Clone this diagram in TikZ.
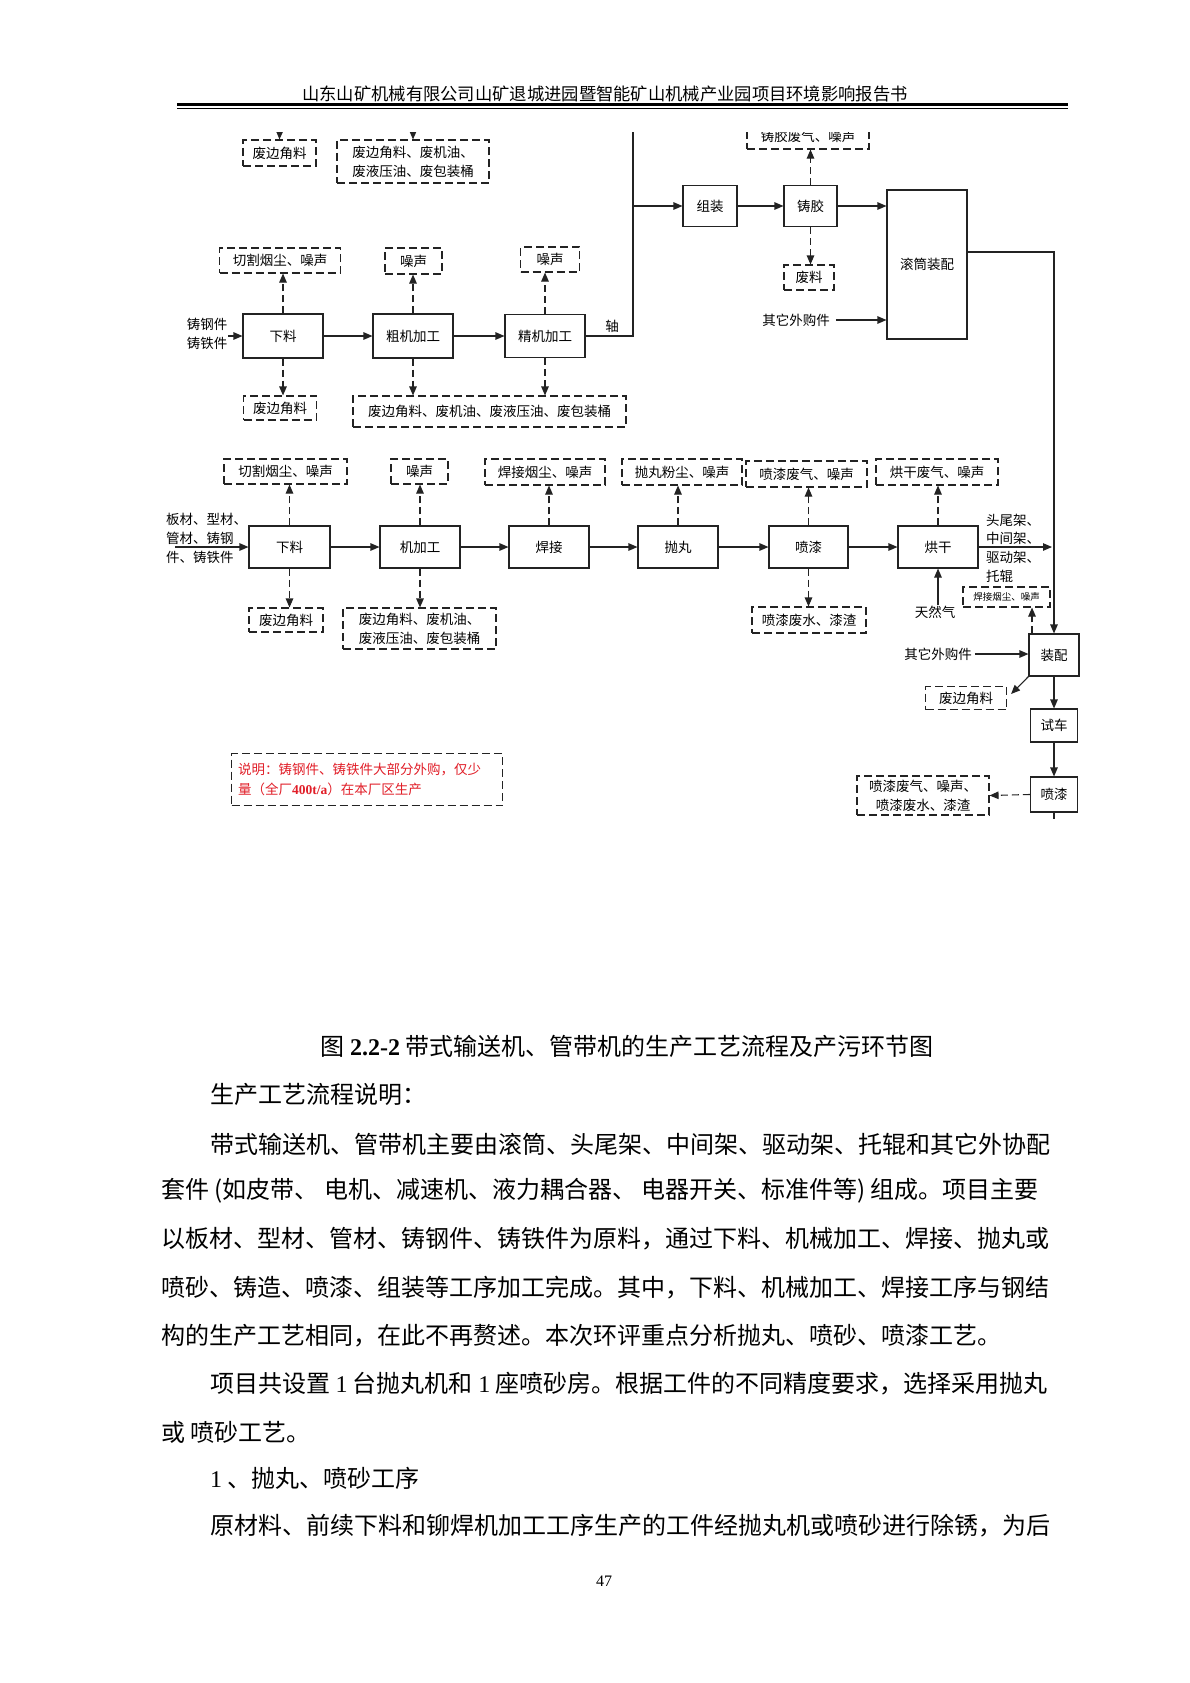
\documentclass[tikz,border=0pt]{standalone}
\usepackage{fontspec}
\setmainfont{Noto Sans CJK SC}
\newfontfamily\tnr{Liberation Serif}
\usetikzlibrary{arrows.meta}
\definecolor{notered}{RGB}{225,30,40}
\definecolor{ink}{RGB}{35,35,35}
\tikzset{
  dfont/.style={font=\fontsize{13.5}{19}\selectfont},
  pbox/.style={draw=ink, line width=1.1pt, inner sep=0pt, dfont},
  wbox/.style={draw=ink, line width=1.1pt, dash pattern=on 8pt off 4pt, inner sep=0pt, dfont},
  txt/.style={inner sep=1pt, dfont},
  ln/.style={draw=ink, line width=1.1pt},
  arr/.style={ln, -{Triangle[length=9pt,width=7.5pt]}},
  darr/.style={arr, dash pattern=on 7pt off 4pt},
  bline/.style={anchor=west, inner sep=0pt, font=\fontsize{24}{24}\selectfont},
}
\begin{document}
\begin{tikzpicture}[x=1pt,y=-1pt]
\useasboundingbox (0,0) rectangle (1190,1683);
\fill[white] (0,0) rectangle (1190,1683);

% header
\node[font=\fontsize{17.3}{20}\selectfont, inner sep=0pt] (hdr) at (605,94) {山东山矿机械有限公司山矿退城进园暨智能矿山机械产业园项目环境影响报告书};
\coordinate (hl1) at (177,104.5); \coordinate (hr1) at (1068,104.5);
\coordinate (hl2) at (177,108.8); \coordinate (hr2) at (1068,108.8);
\draw[line width=2.6pt] (hl1) -- (hr1);
\draw[line width=1pt] (hl2) -- (hr2);

\begin{scope}
\clip (150,133) rectangle (1090,818);

% ---------- row 0 (cut off at top)
\node[wbox, minimum width=73, minimum height=26] (t1) at (279.5,153) {废边角料};
\node[wbox, minimum width=152, minimum height=43, align=left] (t2) at (413,161.5) {废边角料、废机油、\\废液压油、废包装桶};
\coordinate (t1in) at (280,100);
\coordinate (t2in) at (413,100);
\draw[darr] (t1in) -- (t1.north);
\draw[darr] (t2in) -- (t2.north);

% ---------- row 1
\node[pbox, minimum width=80, minimum height=44] (a1) at (283,336) {下料};
\node[pbox, minimum width=80, minimum height=44] (a2) at (413,336) {粗机加工};
\node[pbox, minimum width=80, minimum height=43] (a3) at (545,336) {精机加工};
\node[wbox, minimum width=121, minimum height=25] (ea1) at (280,260.5) {切割烟尘、噪声};
\node[wbox, minimum width=57, minimum height=26] (ea2) at (413.5,261) {噪声};
\node[wbox, minimum width=59, minimum height=25] (ea3) at (550,259.5) {噪声};
\node[wbox, minimum width=73, minimum height=24] (wa1) at (280,408) {废边角料};
\node[wbox, minimum width=273, minimum height=31] (wa2) at (489.5,411.5) {废边角料、废机油、废液压油、废包装桶};
\node[txt, align=left] (in1) at (207,333.5) {铸钢件\\铸铁件};

\draw[arr] (in1.east |- a1.west) -- (a1.west);
\draw[arr] (a1) -- (a2);
\draw[arr] (a2) -- (a3);
\draw[darr] (a1.north) -- (a1.north |- ea1.south);
\draw[darr] (a2.north) -- (a2.north |- ea2.south);
\draw[darr] (a3.north) -- (a3.north |- ea3.south);
\draw[darr] (a1.south) -- (a1.south |- wa1.north);
\draw[darr] (a2.south) -- (a2.south |- wa2.north);
\draw[darr] (a3.south) -- (a3.south |- wa2.north);

\node[txt] (shaft) at (612,326) {轴};
\coordinate (j1) at (633,336);
\coordinate (jtop) at (633,100);
\coordinate (j2) at (633,206);
\draw[ln] (a3.east) -- (j1) -- (jtop);

% ---------- top right
\node[pbox, minimum width=54, minimum height=41] (b1) at (710,206) {组装};
\node[pbox, minimum width=53, minimum height=41] (b2) at (810.5,206) {铸胶};
\node[pbox, minimum width=80, minimum height=149] (b3) at (927,264.5) {滚筒装配};
\node[wbox, minimum width=122, minimum height=25] (eb2) at (808,136.5) {铸胶废气、噪声};
\node[wbox, minimum width=50, minimum height=25] (wb2) at (809,277.5) {废料};
\node[txt] (buy1) at (796,320) {其它外购件};
\draw[arr] (j2) -- (b1.west);
\draw[arr] (b1) -- (b2);
\draw[arr] (b2.east) -- (b2.east -| b3.west);
\draw[darr] (b2.north) -- (b2.north |- eb2.south);
\draw[darr] (b2.south) -- (b2.south |- wb2.north);
\draw[arr] ([xshift=5pt]buy1.east) -- (buy1.east -| b3.west);

% ---------- row 2
\node[pbox, minimum width=81, minimum height=42] (r1) at (289.5,547) {下料};
\node[pbox, minimum width=80, minimum height=42] (r2) at (420,547) {机加工};
\node[pbox, minimum width=80, minimum height=42] (r3) at (549,547) {焊接};
\node[pbox, minimum width=80, minimum height=42] (r4) at (678,547) {抛丸};
\node[pbox, minimum width=79, minimum height=42] (r5) at (808.5,547) {喷漆};
\node[pbox, minimum width=80, minimum height=42] (r6) at (938,547) {烘干};
\node[wbox, minimum width=123, minimum height=25] (s1) at (285.5,471.5) {切割烟尘、噪声};
\node[wbox, minimum width=57, minimum height=25] (s2) at (419.5,471.5) {噪声};
\node[wbox, minimum width=120, minimum height=26] (s3) at (545,472) {焊接烟尘、噪声};
\node[wbox, minimum width=120, minimum height=26] (s4) at (682,472) {抛丸粉尘、噪声};
\node[wbox, minimum width=121, minimum height=26] (s5) at (806.5,474) {喷漆废气、噪声};
\node[wbox, minimum width=122, minimum height=26] (s6) at (937,472) {烘干废气、噪声};
\node[wbox, minimum width=74, minimum height=24] (u1) at (286,620) {废边角料};
\node[wbox, minimum width=153, minimum height=41, align=left] (u2) at (419.5,628.5) {废边角料、废机油、\\废液压油、废包装桶};
\node[wbox, minimum width=114, minimum height=26] (u5) at (809,620) {喷漆废水、漆渣};
\node[txt, align=left, anchor=west] (in2) at (165,538) {板材、型材、\\管材、铸钢\\件、铸铁件};
\coordinate (in2s) at (175,547);

\draw[arr] (in2s) -- (r1.west);
\draw[arr] (r1) -- (r2);
\draw[arr] (r2) -- (r3);
\draw[arr] (r3) -- (r4);
\draw[arr] (r4) -- (r5);
\draw[arr] (r5) -- (r6);
\foreach \i in {1,...,6} {
  \draw[darr] (r\i.north) -- (r\i.north |- s\i.south);
}
\draw[darr] (r1.south) -- (r1.south |- u1.north);
\draw[darr] (r2.south) -- (r2.south |- u2.north);
\draw[darr] (r5.south) -- (r5.south |- u5.north);

\coordinate (out2) at (1052,547);
\draw[arr] (r6.east) -- (out2);
\node[txt, align=left, anchor=west, font=\fontsize{13.5}{18.7}\selectfont] (outl) at (985,548) {头尾架、\\中间架、\\驱动架、\\托辊};
\node[txt] (gas) at (935,612) {天然气};
\draw[arr] (r6.south |- gas.north) -- (r6.south);

% ---------- right column
\node[pbox, minimum width=50, minimum height=42] (d1) at (1054,655) {装配};
\node[pbox, minimum width=47, minimum height=33] (d2) at (1054,725.5) {试车};
\node[pbox, minimum width=47, minimum height=35] (d3) at (1054,794.5) {喷漆};
\node[wbox, minimum width=87, minimum height=20, font=\fontsize{9.5}{11}\selectfont] (sm) at (1006.5,597) {焊接烟尘、噪声};
\node[txt] (buy2) at (938,654) {其它外购件};
\node[wbox, minimum width=81, minimum height=23] (v1) at (966,698) {废边角料};
\node[wbox, minimum width=132, minimum height=39, align=center] (v3) at (923,795.5) {喷漆废气、噪声、\\喷漆废水、漆渣};
\coordinate (c1) at (1054,252);
\coordinate (dend) at (1054,840);

\draw[arr] (b3.east |- c1) -- (c1) -- (d1.north);
\draw[darr] ([xshift=-22pt]d1.north) -- ([xshift=-22pt]d1.north |- sm.south);
\draw[arr] ([xshift=2pt]buy2.east) -- (buy2.east -| d1.west);
\draw[arr] (d1.south west) -- ([xshift=4pt,yshift=4pt]v1.east);
\draw[arr] (d1) -- (d2);
\draw[arr] (d2) -- (d3);
\draw[darr] (d3.west) -- (v3.east);
\draw[ln] (d3.south) -- (dend);

% ---------- note
\node[wbox, anchor=north west, minimum width=271, minimum height=52, text width=258, inner xsep=6.5pt, align=left, text=notered, font=\fontsize{13.5}{20}\selectfont] (note) at (231,753) {说明：铸钢件、铸铁件大部分外购，仅少\\量（全厂{\tnr\bfseries 400t/a}）在本厂区生产};
\end{scope}

% ---------- caption and body text
\node[font=\fontsize{24}{24}\selectfont, inner sep=0pt] (cap) at (627,1046) {图 {\tnr\bfseries 2.2-2} 带式输送机、管带机的生产工艺流程及产污环节图};
\node[bline] (p1) at (210,1094) {生产工艺流程说明：};
\node[bline] (p2) at (210,1144) {带式输送机、管带机主要由滚筒、头尾架、中间架、驱动架、托辊和其它外协配};
\node[bline] (p3) at (161,1191) {套件 (如皮带、 电机、减速机、液力耦合器、 电器开关、标准件等) 组成。项目主要};
\node[bline] (p4) at (161,1239) {以板材、型材、管材、铸钢件、铸铁件为原料，通过下料、机械加工、焊接、抛丸或};
\node[bline] (p5) at (161,1288) {喷砂、铸造、喷漆、组装等工序加工完成。其中，下料、机械加工、焊接工序与钢结};
\node[bline] (p6) at (161,1336) {构的生产工艺相同，在此不再赘述。本次环评重点分析抛丸、喷砂、喷漆工艺。};
\node[bline] (p7) at (210,1384) {项目共设置 {\tnr 1} 台抛丸机和 {\tnr 1} 座喷砂房。根据工件的不同精度要求，选择采用抛丸};
\node[bline] (p8) at (161,1432) {或 喷砂工艺。};
\node[bline] (p9) at (210,1478) {{\tnr 1} 、抛丸、喷砂工序};
\node[bline] (p10) at (210,1526) {原材料、前续下料和铆焊机加工工序生产的工件经抛丸机或喷砂进行除锈，为后};
\node[font=\tnr\fontsize{16}{16}\selectfont, inner sep=0pt] (pg) at (604,1581) {47};
\end{tikzpicture}
\end{document}
